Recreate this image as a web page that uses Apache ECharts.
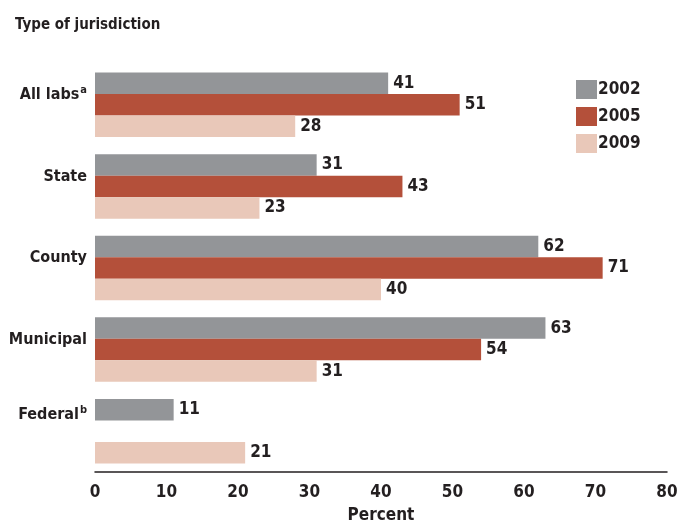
<!DOCTYPE html>
<html><head><meta charset="utf-8">
<script src="https://cdn.jsdelivr.net/npm/echarts@6/dist/echarts.min.js"></script>
<style>html,body{margin:0;padding:0;background:#fff}#c{width:680px;height:521px}</style>
</head><body><div id="c"></div>
<script>
const categories = ['All labs{sup|a}', 'State', 'County', 'Municipal', 'Federal{sup|b}'];
const years = ['2002', '2005', '2009'];
const v2002 = [41, 31, 62, 63, 11];
const v2005 = [51, 43, 71, 54, null];
const v2009 = [28, 23, 40, 31, 21];
const xTicks = [0, 10, 20, 30, 40, 50, 60, 70, 80];
const colors = ['#939598', '#b4503a', '#e9c8b9'];
const FONT = '"Liberation Sans Narrow","DejaVu Sans Condensed",sans-serif';
const ink = '#231f20';

const chart = echarts.init(document.getElementById('c'));
const seriesData = [v2002, v2005, v2009];
const catData = categories.map((c, i) => ({
  value: c,
  textStyle: {padding: [0, 0, i === categories.length - 1 ? 32 : 20, 0]}
}));
chart.setOption({
  animation: false,
  textStyle: {fontFamily: FONT},
  title: {text: 'Type of jurisdiction', left: 10, top: 13,
    textStyle: {fontFamily: FONT, fontWeight: 'bold', fontSize: 15, color: ink}},
  legend: {
    orient: 'vertical', left: 571, top: 75, itemWidth: 21, itemHeight: 19, itemGap: 8,
    icon: 'rect', data: years,
    textStyle: {fontFamily: FONT, fontWeight: 'bold', fontSize: 17, color: ink, padding: [0,0,0,-4]}
  },
  grid: {left: 95, right: 13, top: 64, bottom: 49, containLabel: false, outerBoundsMode: 'none'},
  xAxis: {
    type: 'value', min: xTicks[0], max: xTicks[xTicks.length-1], interval: 10,
    name: 'Percent', nameLocation: 'middle', nameGap: 35,
    nameTextStyle: {fontFamily: FONT, fontWeight: 'bold', fontSize: 17, color: ink},
    axisLine: {show: true, lineStyle: {color: ink, width: 1.5}},
    axisTick: {show: false}, splitLine: {show: false},
    axisLabel: {fontFamily: FONT, fontWeight: 'bold', fontSize: 17, color: ink, margin: 12}
  },
  yAxis: {
    type: 'category', inverse: true, data: catData,
    axisLine: {show: false}, axisTick: {show: false},
    axisLabel: {margin: 8, color: ink, fontFamily: FONT, fontWeight: 'bold', fontSize: 16,
      rich: {sup: {fontFamily: FONT, fontWeight: 'bold', fontSize: 11, color: ink, verticalAlign: 'top', padding: [0,0,10,1]}}}
  },
  series: years.map((y, i) => ({
    name: y, type: 'bar', data: seriesData[i], barWidth: 21.5, barGap: '0%',
    itemStyle: {color: colors[i]},
    label: {show: true, position: 'right', distance: 5, fontFamily: FONT, fontWeight: 'bold', fontSize: 17, color: ink}
  }))
});
</script></body></html>
